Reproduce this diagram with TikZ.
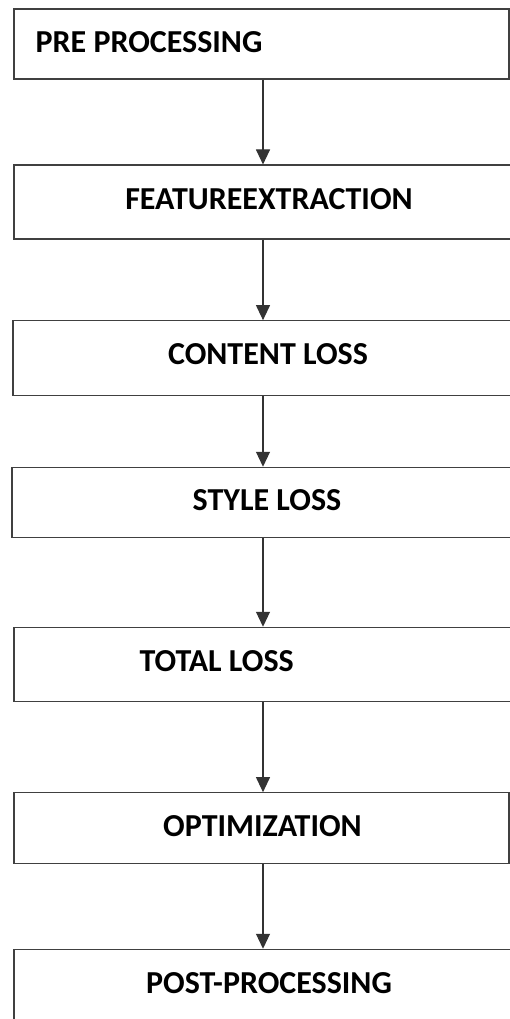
\documentclass[tikz,border=0pt]{standalone}
\usepackage{fontspec}
\setmainfont{Carlito}
\usetikzlibrary{arrows.meta}
\tikzset{
  box/.style={draw=black!75, line width=1.1pt, rectangle, inner sep=0pt},
  lbl/.style={font=\fontsize{32}{38}\selectfont\bfseries, text=black, inner sep=0pt, anchor=center},
  arr/.style={draw=black!80, line width=1.1pt, -{Triangle[width=14pt,length=15pt]}}
}
\begin{document}
\begin{tikzpicture}[x=1pt,y=-1pt]
\useasboundingbox (0,0) rectangle (510,1019);
\clip (0,0) rectangle (510,1019);
\fill[white] (0,0) rectangle (510,1019);
\coordinate (ax) at (263,0);
\node[box, minimum height=70pt, minimum width=495pt] (b1) at (261.5,44) {};
\node[box, minimum height=74pt, minimum width=500pt] (b2) at (264,202) {};
\node[box, minimum height=75pt, minimum width=501pt] (b3) at (263.5,358.2) {};
\node[box, minimum height=70.4pt, minimum width=502pt] (b4) at (263,502.5) {};
\node[box, minimum height=74.4pt, minimum width=500pt] (b5) at (264,664.5) {};
\node[box, minimum height=70.6pt, minimum width=495pt] (b6) at (261.5,828) {};
\node[box, minimum height=80pt, minimum width=500pt] (b7) at (264,989.3) {};
\node[lbl] (t1) at (149,42.5) {PRE PROCESSING};
\node[lbl] (t2) at (269,199.5) {FEATUREEXTRACTION};
\node[lbl] (t3) at (268,354) {CONTENT LOSS};
\node[lbl] (t4) at (267,500) {STYLE LOSS};
\node[lbl] (t5) at (216.7,661) {TOTAL LOSS};
\node[lbl] (t6) at (262.5,826.5) {OPTIMIZATION};
\node[lbl] (t7) at (269,983) {POST-PROCESSING};
\draw[arr] (b1.south -| ax) -- (b2.north -| ax);
\draw[arr] (b2.south -| ax) -- (b3.north -| ax);
\draw[arr] (b3.south -| ax) -- (b4.north -| ax);
\draw[arr] (b4.south -| ax) -- (b5.north -| ax);
\draw[arr] (b5.south -| ax) -- (b6.north -| ax);
\draw[arr] (b6.south -| ax) -- (b7.north -| ax);
\end{tikzpicture}
\end{document}
